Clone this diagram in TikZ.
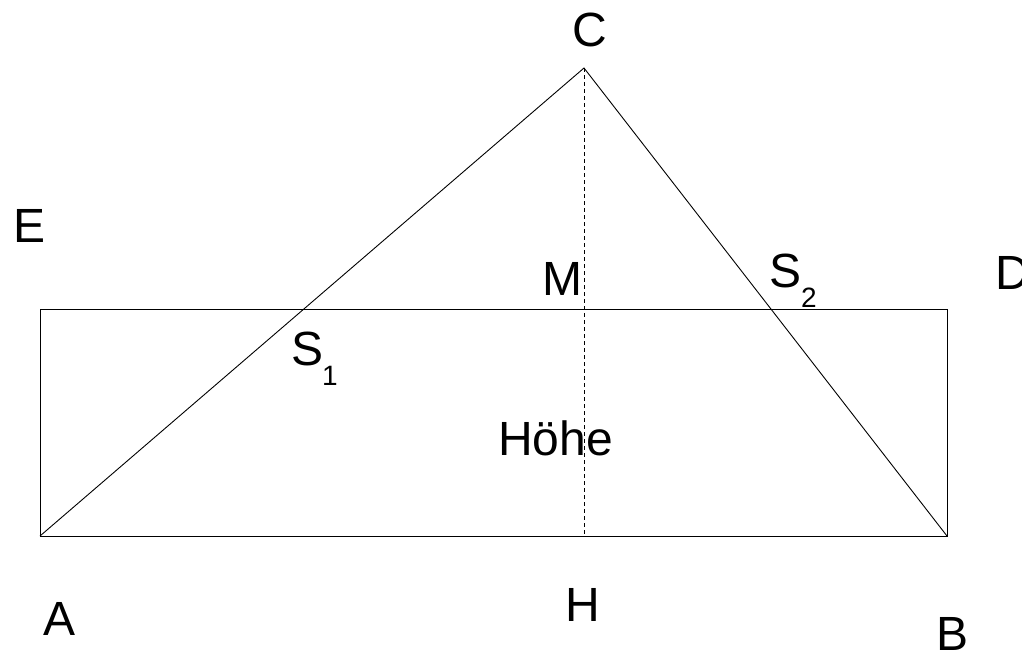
\documentclass[tikz,border=0pt]{standalone}
\usepackage{fontspec}
\setmainfont{Liberation Sans}
\begin{document}
\begin{tikzpicture}[x=1pt,y=-1pt,
  lbl/.style={inner sep=0pt,anchor=base,font=\fontsize{48}{56}\selectfont},
  sublbl/.style={inner sep=0pt,anchor=base,font=\fontsize{28}{32}\selectfont},
  edge/.style={line width=0.9pt,black},
  heightline/.style={line width=0.8pt,dash pattern=on 4pt off 3pt}]
\useasboundingbox (0,0) rectangle (1022,653);
% geometry points
\coordinate (pA) at (40,536);
\coordinate (pB) at (947,536);
\coordinate (pC) at (584,68);
\coordinate (pD) at (947,309);
\coordinate (pE) at (40,309);
\coordinate (pH) at (584,536);
% rectangle and triangle
\draw[edge] (pA) -- (pB) -- (pD) -- (pE) -- cycle;
\draw[edge] (pA) -- (pC) -- (pB);
\draw[heightline] (pC) -- (pH);
% labels
\node[lbl] (lC) at (590,46) {C};
\node[lbl] (lE) at (30,242) {E};
\node[lbl,anchor=base west] (lD) at (995,289) {D};
\node[lbl] (lM) at (562,295) {M};
\node[lbl] (lS2) at (785,287) {S};
\node[sublbl] (lS2i) at (809,307) {2};
\node[lbl] (lS1) at (308,365) {S};
\node[sublbl] (lS1i) at (330,385) {1};
\node[lbl] (lHoehe) at (555.5,455) {Höhe};
\node[lbl] (lA) at (59.5,635) {A};
\node[lbl] (lH) at (582.5,621) {H};
\node[lbl] (lB) at (952.5,650) {B};
\end{tikzpicture}
\end{document}
